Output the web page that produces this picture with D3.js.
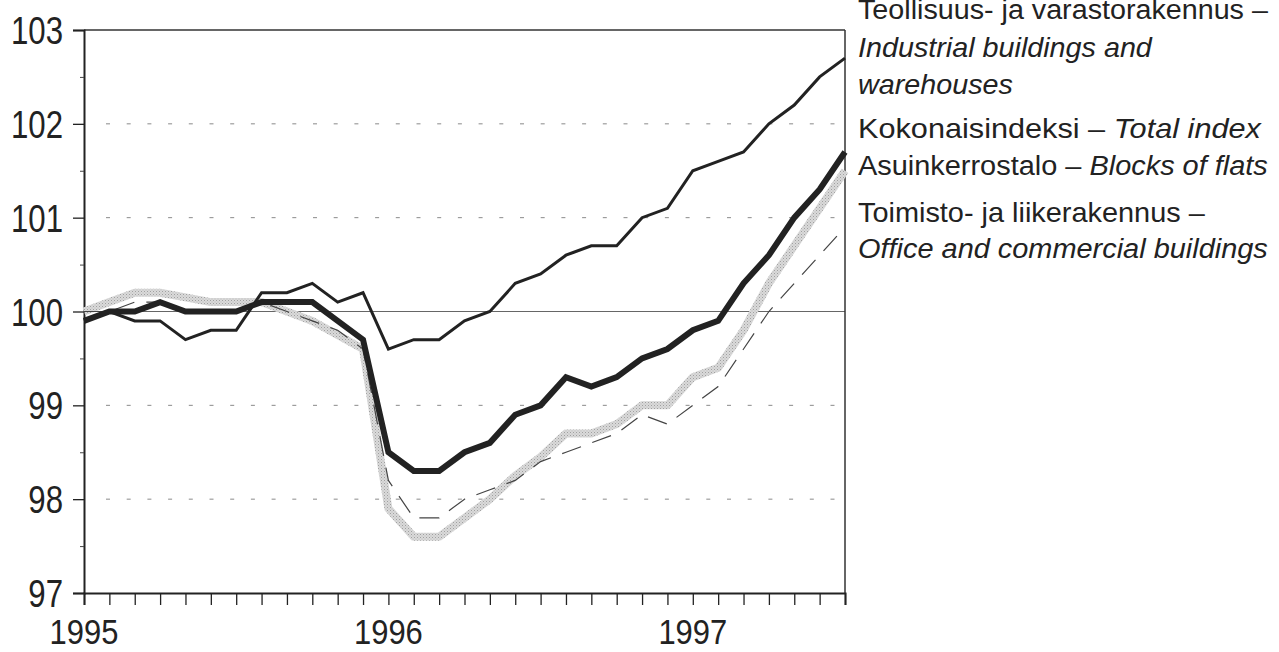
<!DOCTYPE html>
<html>
<head>
<meta charset="utf-8">
<script src="https://cdn.jsdelivr.net/npm/d3@7"></script>
<style>
  html, body { margin: 0; padding: 0; background: #fff; }
  svg { display: block; }
  text { font-family: 'Liberation Sans', Arial, sans-serif; fill: #222; }
</style>
</head>
<body>
<svg id="chart" width="1279" height="652"></svg>
<script>
// ---- data (monthly, Jan 1995 – Jul 1997; index 1995 = 100) ----
const months = ["1995-01","1995-02","1995-03","1995-04","1995-05","1995-06","1995-07","1995-08","1995-09","1995-10","1995-11","1995-12",
                "1996-01","1996-02","1996-03","1996-04","1996-05","1996-06","1996-07","1996-08","1996-09","1996-10","1996-11","1996-12",
                "1997-01","1997-02","1997-03","1997-04","1997-05","1997-06","1997-07"];
const industrial = [99.9,100.0,99.9,99.9,99.7,99.8,99.8,100.2,100.2,100.3,100.1,100.2,
                    99.6,99.7,99.7,99.9,100.0,100.3,100.4,100.6,100.7,100.7,101.0,101.1,
                    101.5,101.6,101.7,102.0,102.2,102.5,102.7];
const total      = [99.9,100.0,100.0,100.1,100.0,100.0,100.0,100.1,100.1,100.1,99.9,99.7,
                    98.5,98.3,98.3,98.5,98.6,98.9,99.0,99.3,99.2,99.3,99.5,99.6,
                    99.8,99.9,100.3,100.6,101.0,101.3,101.7];
const flats      = [100.0,100.1,100.2,100.2,100.15,100.1,100.1,100.1,100.0,99.9,99.75,99.6,
                    97.9,97.6,97.6,97.8,98.0,98.25,98.45,98.7,98.7,98.8,99.0,99.0,
                    99.3,99.4,99.8,100.3,100.7,101.1,101.5];
const office     = [100.0,100.0,100.1,100.1,100.0,100.0,100.0,100.1,100.0,99.9,99.8,99.6,
                    98.2,97.8,97.8,98.0,98.1,98.2,98.4,98.5,98.6,98.7,98.9,98.8,
                    99.0,99.2,99.6,100.0,100.3,100.6,100.9];
const yTicks = [97, 98, 99, 100, 101, 102, 103];
const yMinorTicks = [97.5, 98.5, 99.5, 100.5, 101.5, 102.5];
const yearTicks = [0, 12, 24];
const yearLabels = ["1995", "1996", "1997"];
const legendLines = [
  [{t: "Teollisuus- ja varastorakennus –", i: false}],
  [{t: "Industrial buildings and", i: true}],
  [{t: "warehouses", i: true}],
  [{t: "Kokonaisindeksi – ", i: false}, {t: "Total index", i: true}],
  [{t: "Asuinkerrostalo – ", i: false}, {t: "Blocks of flats", i: true}],
  [{t: "Toimisto- ja liikerakennus –", i: false}],
  [{t: "Office and commercial buildings", i: true}]
];

// ---- layout (positions / sizes only) ----
const L = 84, R = 845, T = 30, B = 593;
const SX = 0.8; // horizontal condensing of the axis label font
const legendX = 858;
const legendBaselines = [19, 57, 94, 138, 175, 222, 258];
const legendWidths = [410, 294, 155, 403, 410, 347, 410];

const svg = d3.select("#chart");
const x = d3.scaleLinear().domain([0, months.length - 1]).range([L, R]);
const y = d3.scaleLinear().domain([97, 103]).range([B, T]);

function ctext(g, px, py, size, anchor, sx) {
  return g.append("text")
    .attr("transform", `translate(${px},${py}) scale(${sx},1)`)
    .attr("font-size", size).attr("text-anchor", anchor);
}

const defs = svg.append("defs");
const pat = defs.append("pattern").attr("id", "stipple").attr("patternUnits", "userSpaceOnUse")
  .attr("width", 3).attr("height", 3);
pat.append("rect").attr("width", 3).attr("height", 3).attr("fill", "#dadada");
pat.append("rect").attr("x", 0).attr("y", 0).attr("width", 1).attr("height", 1).attr("fill", "#a0a0a0");
pat.append("rect").attr("x", 1.5).attr("y", 1.5).attr("width", 1).attr("height", 1).attr("fill", "#b8b8b8");

// gridlines
svg.append("g").selectAll("line").data(yTicks.filter(v => v !== 97 && v !== 103 && v !== 100))
  .join("line")
  .attr("x1", L + 22).attr("x2", R).attr("y1", d => y(d)).attr("y2", d => y(d))
  .attr("stroke", "#8a8a8a").attr("stroke-width", 1).attr("stroke-dasharray", "4 16.7");
svg.append("line").attr("x1", L).attr("x2", R).attr("y1", y(100)).attr("y2", y(100))
  .attr("stroke", "#666").attr("stroke-width", 1);

// frame
svg.append("line").attr("x1", L).attr("x2", R).attr("y1", T).attr("y2", T).attr("stroke", "#333").attr("stroke-width", 1.5);
svg.append("line").attr("x1", R).attr("x2", R).attr("y1", T).attr("y2", B).attr("stroke", "#333").attr("stroke-width", 1.5);

// axes
const yAxis = d3.axisLeft(y).tickValues(yTicks).tickSize(11).tickFormat("");
const gy = svg.append("g").attr("transform", `translate(${L},0)`).call(yAxis);
gy.select(".domain").attr("stroke", "#222").attr("stroke-width", 2);
gy.selectAll(".tick line").attr("stroke", "#222").attr("stroke-width", 1.3);
const yMinor = d3.axisLeft(y).tickValues(yMinorTicks).tickSize(4).tickFormat("");
const gym = svg.append("g").attr("transform", `translate(${L},0)`).call(yMinor);
gym.select(".domain").remove();
gym.selectAll(".tick line").attr("stroke", "#444").attr("stroke-width", 1);
const gyl = svg.append("g");
yTicks.forEach(v => {
  ctext(gyl, 63, y(v) + 14, 39, "end", SX).text(d3.format("d")(v));
});

const xAxis = d3.axisBottom(x).tickValues(d3.range(months.length)).tickSize(12).tickFormat("");
const gx = svg.append("g").attr("transform", `translate(0,${B})`).call(xAxis);
gx.select(".domain").attr("stroke", "#222").attr("stroke-width", 2);
gx.selectAll(".tick line").attr("stroke", "#222").attr("stroke-width", 1.3);
const gxl = svg.append("g");
yearTicks.forEach((d, i) => {
  ctext(gxl, x(d), 644, 36, "middle", 0.86).text(yearLabels[i]);
});

// lines
const line = d3.line().x((d, i) => x(i)).y(d => y(d)).curve(d3.curveLinear);
const plot = svg.append("g");
plot.append("path").datum(flats).attr("d", line).attr("fill", "none")
  .attr("stroke", "url(#stipple)").attr("stroke-width", 8).attr("stroke-linejoin", "round");
plot.append("path").datum(office).attr("d", line).attr("fill", "none")
  .attr("stroke", "#444").attr("stroke-width", 1.2).attr("stroke-dasharray", "20 12");
plot.append("path").datum(industrial).attr("d", line).attr("fill", "none")
  .attr("stroke", "#222").attr("stroke-width", 3).attr("stroke-linejoin", "miter");
plot.append("path").datum(total).attr("d", line).attr("fill", "none")
  .attr("stroke", "#222").attr("stroke-width", 6).attr("stroke-linejoin", "miter");

// legend: each line fitted to the width it has in the reference
const leg = svg.append("g");
legendLines.forEach((parts, k) => {
  const t = ctext(leg, legendX, legendBaselines[k], 28, "start", 1);
  parts.forEach(p => t.append("tspan").attr("font-style", p.i ? "italic" : "normal").text(p.t));
  const w = t.node().getComputedTextLength();
  const s = legendWidths[k] / w;
  t.attr("transform", `translate(${legendX},${legendBaselines[k]}) scale(${s},1)`);
});
</script>
</body>
</html>
